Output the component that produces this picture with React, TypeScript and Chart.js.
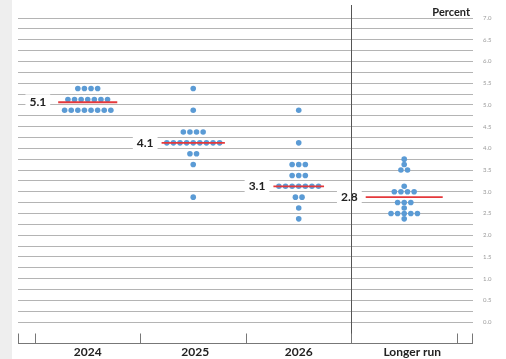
import React, { useEffect, useRef } from 'react';
import { Chart, registerables } from 'chart.js';

Chart.register(...registerables);

// ---- Data ----
const categories = ['2024', '2025', '2026', 'Longer run'];

const levels2024 = [5.375, 5.125, 4.875];
const counts2024 = [4, 7, 8];

const levels2025 = [5.375, 4.875, 4.375, 4.125, 3.875, 3.625, 2.875];
const counts2025 = [1, 1, 4, 9, 2, 1, 1];

const levels2026 = [4.875, 4.125, 3.625, 3.375, 3.125, 2.875, 2.625, 2.375];
const counts2026 = [1, 1, 3, 3, 7, 2, 1, 1];

const levelsLonger = [3.75, 3.625, 3.5, 3.125, 3.0, 2.75, 2.625, 2.5, 2.375];
const countsLonger = [1, 1, 2, 1, 4, 3, 1, 5, 1];

const medianLabels = ['5.1', '4.1', '3.1', '2.8'];
const medianLevels = [5.06, 4.125, 3.125, 2.875];

const yMin = 0;
const yMax = 7;
const yStep = 0.25;

// ---- Styles ----
const FONT = 'Lato, "Open Sans", "Liberation Sans", sans-serif';
const DOT_COLOR = '#5B9BD5';
const RED = '#E5383B';
const GRID = '#B4B4B4';
const DOT_STEP = 0.0626; // horizontal spacing between dots in a row (x units)
const MEDIAN_HALF = [0.28, 0.3, 0.24, 0.365];
const X_MIN = -0.661;
const X_MAX = 3.652;
const LABEL_SHIFT = [0, 2, 0, 8];

const allLevels = [levels2024, levels2025, levels2026, levelsLonger];
const allCounts = [counts2024, counts2025, counts2026, countsLonger];

function buildDots() {
  const pts: { x: number; y: number }[] = [];
  allLevels.forEach((levels, i) => {
    levels.forEach((lv, k) => {
      const n = allCounts[i][k];
      for (let j = 0; j < n; j++) {
        pts.push({ x: i + (j - (n - 1) / 2) * DOT_STEP, y: lv });
      }
    });
  });
  return pts;
}

const overlayPlugin = {
  id: 'dotplotOverlay',
  beforeDraw(chart: any) {
    const ctx = chart.ctx;
    ctx.save();
    ctx.fillStyle = '#FFFFFF';
    ctx.fillRect(0, 0, chart.width, chart.height);
    ctx.fillStyle = '#EEEEEE';
    ctx.fillRect(0, 0, 12, chart.height);
    ctx.restore();
  },
  afterDraw(chart: any) {
    const ctx = chart.ctx;
    const xs = chart.scales.x;
    const ys = chart.scales.y;
    const area = chart.chartArea;
    ctx.save();

    // median labels with white boxes
    ctx.font = `bold 12px ${FONT}`;
    ctx.textBaseline = 'middle';
    medianLabels.forEach((lab, i) => {
      const left = xs.getPixelForValue(i - MEDIAN_HALF[i]);
      const y = ys.getPixelForValue(medianLevels[i]);
      const w = ctx.measureText(lab).width;
      const right = left - (i === 0 ? 12 : 8);
      ctx.fillStyle = '#FFFFFF';
      ctx.fillRect(right - w - 4, y - 8, w + 8, 16);
      ctx.fillStyle = '#222222';
      ctx.textAlign = 'right';
      ctx.fillText(lab, right, y);
    });

    // vertical separator before "Longer run"
    const sepX = Math.round(xs.getPixelForValue(2.5)) + 0.5;
    const axisY = Math.round(area.bottom + 21) + 0.5;
    ctx.strokeStyle = '#555555';
    ctx.lineWidth = 1;
    ctx.beginPath();
    ctx.moveTo(sepX, 5);
    ctx.lineTo(sepX, axisY);
    ctx.stroke();

    // bottom axis
    const x0 = xs.getPixelForValue(X_MIN);
    const x1 = xs.getPixelForValue(X_MAX);
    ctx.strokeStyle = '#777777';
    ctx.beginPath();
    ctx.moveTo(x0, axisY);
    ctx.lineTo(x1, axisY);
    const tickVals = [X_MIN, -0.5, 0.5, 1.5, 2.5, 3.5, X_MAX];
    tickVals.forEach((v) => {
      const px = Math.round(xs.getPixelForValue(v)) + (v === X_MAX ? -0.5 : 0.5);
      ctx.moveTo(px, axisY - 10);
      ctx.lineTo(px, axisY);
    });
    ctx.stroke();

    // category labels
    ctx.font = `bold 12px ${FONT}`;
    ctx.fillStyle = '#222222';
    ctx.textAlign = 'center';
    ctx.textBaseline = 'middle';
    categories.forEach((c, i) => {
      ctx.fillText(c, xs.getPixelForValue(i) + LABEL_SHIFT[i], axisY + 9);
    });

    // "Percent"
    ctx.font = `bold 11px ${FONT}`;
    ctx.textAlign = 'right';
    ctx.fillText('Percent', area.right - 3, 12);

    ctx.restore();
  },
};

export default function App() {
  const ref = useRef<HTMLCanvasElement | null>(null);

  useEffect(() => {
    if (!ref.current) return;
    const dots = buildDots();
    const medianSets = medianLevels.map((m, i) => ({
      type: 'scatter' as const,
      data: [
        { x: i - MEDIAN_HALF[i], y: m },
        { x: i + MEDIAN_HALF[i], y: m },
      ],
      showLine: true,
      borderColor: RED,
      borderWidth: 1.8,
      pointRadius: 0,
    }));
    const chart = new Chart(ref.current, {
      type: 'scatter',
      data: {
        datasets: [
          ...medianSets,
          {
            data: dots,
            backgroundColor: DOT_COLOR,
            borderWidth: 0,
            pointRadius: 2.8,
          },
        ],
      },
      options: {
        animation: false,
        responsive: false,
        events: [],
        layout: { padding: { left: 18, top: 18, right: 0, bottom: 37 } },
        plugins: { legend: { display: false }, tooltip: { enabled: false } },
        scales: {
          x: { type: 'linear', min: X_MIN, max: X_MAX, display: false },
          y: {
            type: 'linear',
            position: 'right',
            min: yMin,
            max: yMax,
            afterFit: (s: any) => {
              s.width = 33;
            },
            ticks: {
              stepSize: yStep,
              autoSkip: false,
              padding: 10,
              color: '#9A9A9A',
              font: { family: FONT, size: 6 },
              callback: (v: any) => {
                const n = Number(v);
                return Math.abs(n * 2 - Math.round(n * 2)) < 1e-6 ? n.toFixed(1) : '';
              },
            },
            grid: { color: GRID, lineWidth: 1, drawTicks: false },
            border: { display: false },
          },
        },
      },
      plugins: [overlayPlugin],
    });
    return () => chart.destroy();
  }, []);

  return (
    <div style={{ position: 'absolute', left: 0, top: 0, width: 506, height: 359 }}>
      <canvas ref={ref} width={506} height={359} style={{ display: 'block' }} />
    </div>
  );
}
